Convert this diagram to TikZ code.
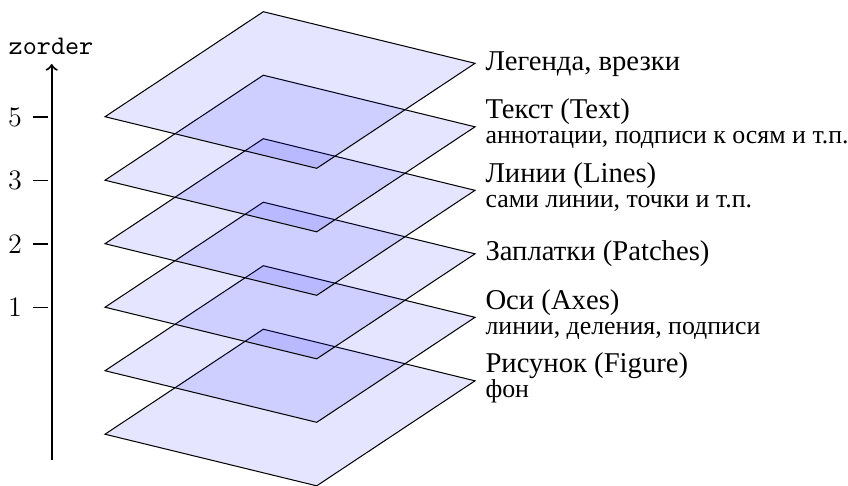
\documentclass[tikz,border=0pt]{standalone}
\usepackage{fontspec}
\newfontfamily\cyrfont{Liberation Serif}
\begin{document}
\begin{tikzpicture}[x=0.390625pt,y=-0.390625pt,
  layerbox/.style={draw=black, fill=blue, fill opacity=0.1, line width=0.4pt, line join=miter},
  mainlbl/.style={anchor=base west, inner sep=0pt, font=\cyrfont\fontsize{11.2}{13}\selectfont},
  sublbl/.style={anchor=base west, inner sep=0pt, font=\cyrfont\fontsize{10.1}{11}\selectfont},
  ticklbl/.style={inner sep=0pt, font=\fontsize{11}{13}\selectfont},
  tickline/.style={line width=0.45pt},
  axisline/.style={line width=0.8pt, ->}]
\useasboundingbox (0,0) rectangle (848,485);
% layers, bottom first
\foreach \i in {5,4,3,2,1,0} {
  \pgfmathsetmacro\d{63.5*\i}
  \draw[layerbox] (105,116.7+\d) -- (263.3,11.7+\d) -- (475,63.3+\d) -- (316.7,168.3+\d) -- cycle;
}
% axis
\coordinate (axbot) at (51.7,460);
\coordinate (axtop) at (51.7,64);
\draw[axisline] (axbot) -- (axtop);
\node[inner sep=0pt, anchor=base, font=\ttfamily\fontsize{10.5}{12}\selectfont] (zl) at (51,54) {zorder};
% ticks
\foreach \v/\y in {5/117, 3/180.5, 2/244, 1/307.5} {
  \draw[tickline] (33.3,\y) -- (48.3,\y);
  \node[ticklbl] (t\v) at (15,\y) {\v};
}
% labels
\node[mainlbl] (l0) at (485,70) {Легенда, врезки};
\node[mainlbl] (l1) at (485,118) {Текст (Text)};
\node[sublbl]  (s1) at (485,143.5) {аннотации, подписи к осям и т.п.};
\node[mainlbl] (l2) at (485,182) {Линии (Lines)};
\node[sublbl]  (s2) at (485,207.5) {сами линии, точки и т.п.};
\node[mainlbl] (l3) at (485,260) {Заплатки (Patches)};
\node[mainlbl] (l4) at (485,309) {Оси (Axes)};
\node[sublbl]  (s4) at (485,334.5) {линии, деления, подписи};
\node[mainlbl] (l5) at (485,372) {Рисунок (Figure)};
\node[sublbl]  (s5) at (485,397.5) {фон};
\end{tikzpicture}
\end{document}
